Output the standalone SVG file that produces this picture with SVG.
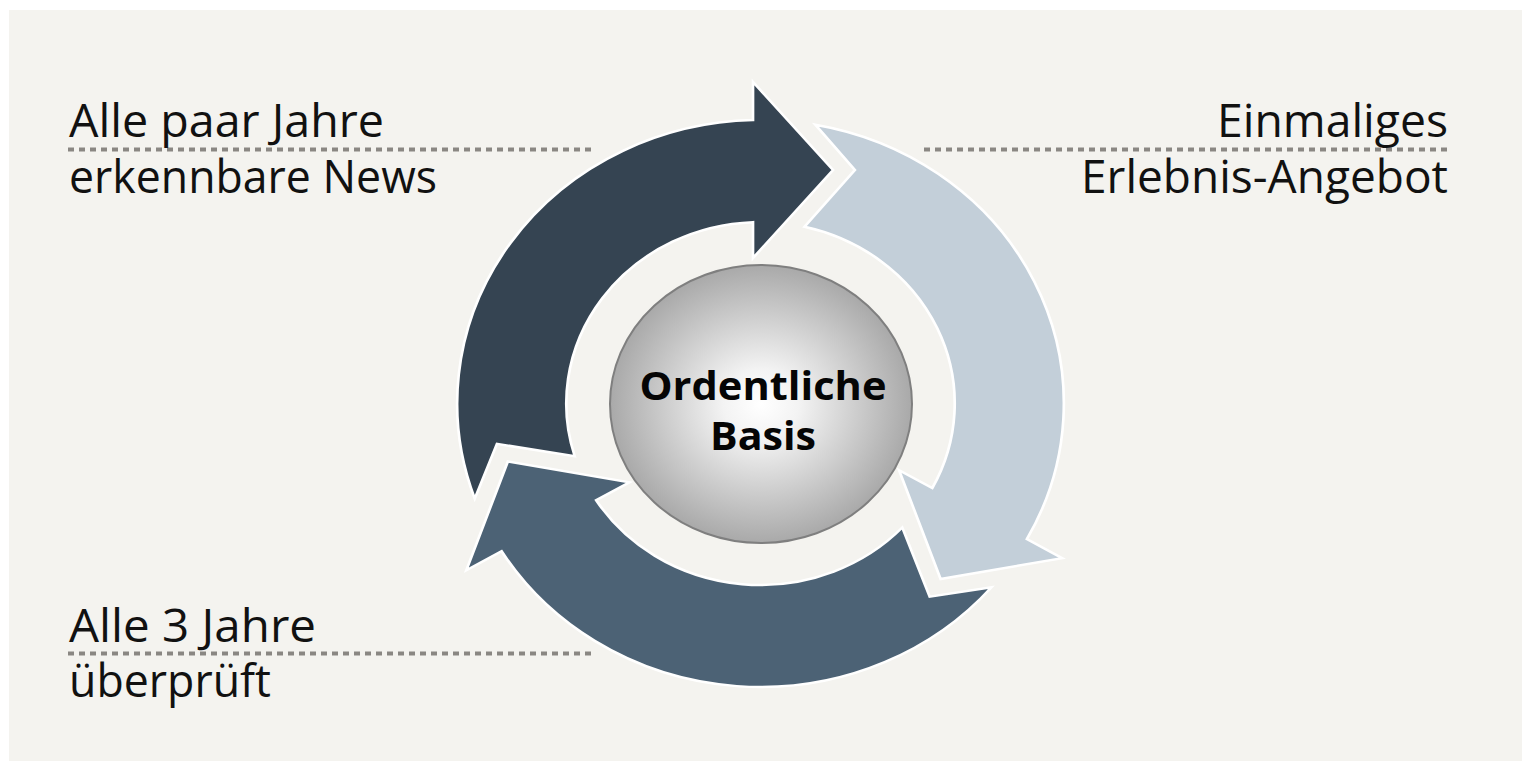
<svg xmlns="http://www.w3.org/2000/svg" width="1522" height="761" viewBox="0 0 1522 761">
<style>
.arrow{stroke:#ffffff;stroke-width:2.5;stroke-linejoin:miter;vector-effect:non-scaling-stroke}
.lbl{font-family:"Open Sans","Noto Sans","DejaVu Sans",sans-serif;font-size:45px;fill:#111111}
.ctr{font-family:"Open Sans","Noto Sans","DejaVu Sans",sans-serif;font-size:39px;font-weight:bold;fill:#050505;text-anchor:middle}
.dots{stroke:#8a8783;stroke-width:4;stroke-dasharray:6 5;fill:none}
</style>
<defs>
<path id="arrowShape" d="M -267.07 95.10 A 283.5 283.5 0 0 1 -7 -283.41 L -7 -321.5 L 67.8 -233.5 L -7 -145.5 L -7 -181.37 A 181.5 181.5 0 0 0 -173.66 52.76 L -246.32 40.34 Z"/>
<radialGradient id="sphere" cx="50%" cy="50%" r="50%">
<stop offset="0" stop-color="#ffffff"/>
<stop offset="0.25" stop-color="#f3f3f3"/>
<stop offset="1" stop-color="#a9a9a9"/>
</radialGradient>
</defs>
<rect x="0" y="0" width="1522" height="761" fill="#ffffff"/>
<rect x="9" y="10" width="1513" height="751" fill="#f4f3ef"/>
<g id="arrow-news" transform="translate(760.5 403.5) scale(1.07 1) rotate(0)">
<use href="#arrowShape" class="arrow" fill="#354452"/>
</g>
<g id="arrow-erlebnis" transform="translate(760.5 403.5) scale(1.07 1) rotate(120)">
<use href="#arrowShape" class="arrow" fill="#c3cfd9"/>
</g>
<g id="arrow-pruefung" transform="translate(760.5 403.5) scale(1.07 1) rotate(240)">
<use href="#arrowShape" class="arrow" fill="#4c6275"/>
</g>
<g id="center-basis">
<ellipse cx="761" cy="404" rx="151" ry="139" fill="url(#sphere)" stroke="#7f7f7f" stroke-width="2"/>
<text class="ctr" x="763" y="400" textLength="247" lengthAdjust="spacingAndGlyphs">Ordentliche</text>
<text class="ctr" x="763" y="450" textLength="106" lengthAdjust="spacingAndGlyphs">Basis</text>
</g>
<g id="connectors">
<line class="dots" x1="68" y1="149.5" x2="593" y2="149.5"/>
<line class="dots" x1="924" y1="149.5" x2="1450" y2="149.5"/>
<line class="dots" x1="68" y1="653.5" x2="593" y2="653.5"/>
</g>
<g id="label-news">
<text class="lbl" x="69" y="137" textLength="315" lengthAdjust="spacingAndGlyphs">Alle paar Jahre</text>
<text class="lbl" x="69" y="193" textLength="368" lengthAdjust="spacingAndGlyphs">erkennbare News</text>
</g>
<g id="label-erlebnis">
<text class="lbl" x="1448" y="137" text-anchor="end" textLength="231" lengthAdjust="spacingAndGlyphs">Einmaliges</text>
<text class="lbl" x="1448" y="193" text-anchor="end" textLength="367" lengthAdjust="spacingAndGlyphs">Erlebnis-Angebot</text>
</g>
<g id="label-pruefung">
<text class="lbl" x="69" y="642" textLength="247" lengthAdjust="spacingAndGlyphs">Alle 3 Jahre</text>
<text class="lbl" x="69" y="697" textLength="202" lengthAdjust="spacingAndGlyphs">überprüft</text>
</g>
</svg>
